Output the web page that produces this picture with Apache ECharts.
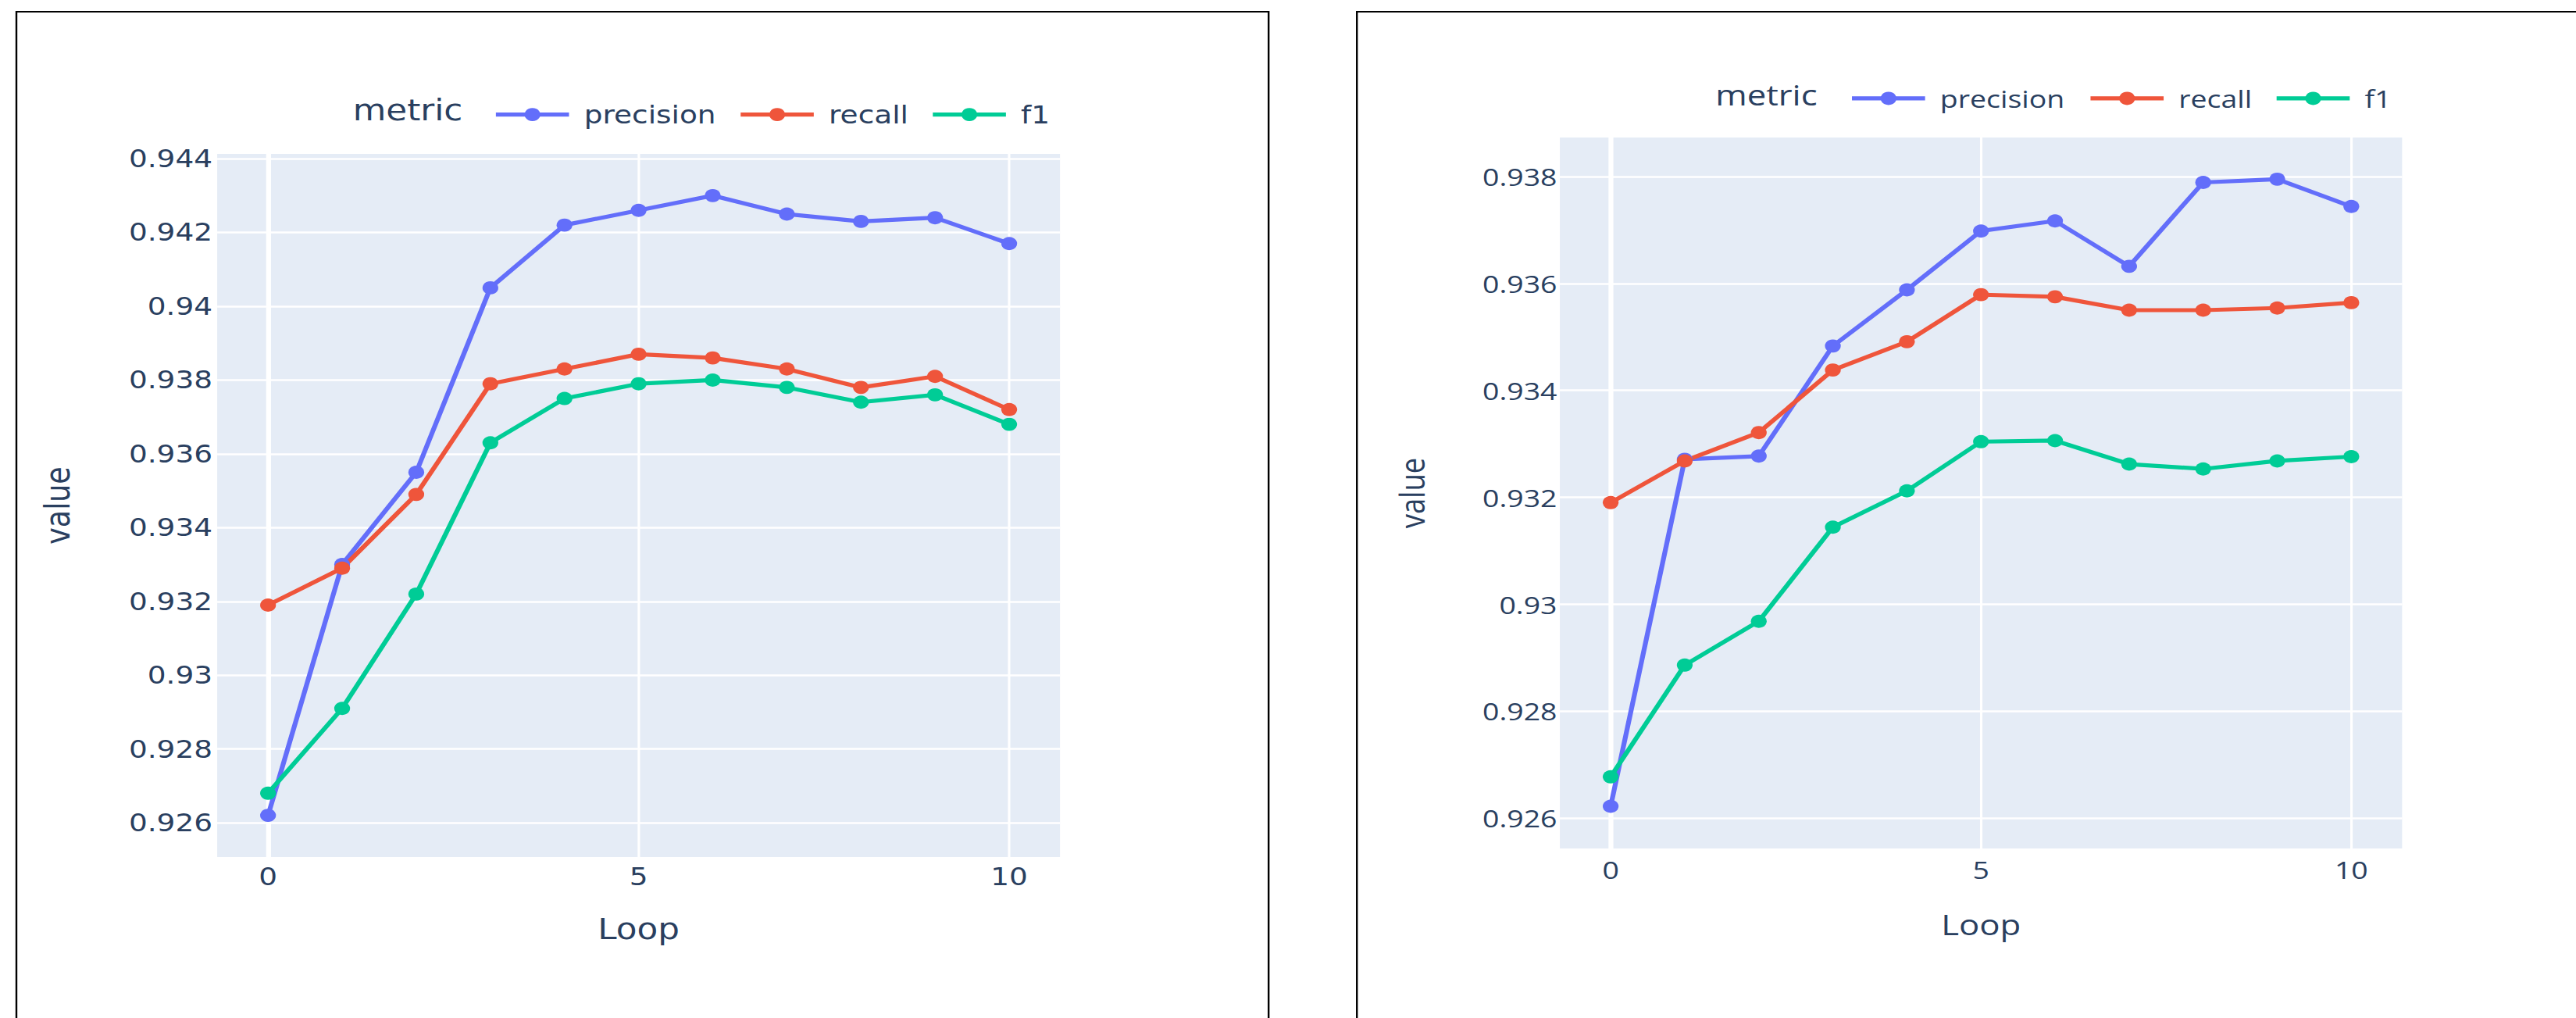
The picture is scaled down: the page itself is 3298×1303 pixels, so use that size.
<!DOCTYPE html>
<html>
<head>
<meta charset="utf-8">
<script src="https://cdn.jsdelivr.net/npm/echarts@6/dist/echarts.min.js"></script>
<style>
  html, body { margin: 0; padding: 0; background: #ffffff; overflow: hidden; }
  /* the figure is laid out on a narrower stage and widened horizontally */
  #stage { position: absolute; left: 0; top: 0; width: 2748px; height: 1303px;
           transform: scaleX(1.20015); transform-origin: 0 0; }
</style>
</head>
<body>
<div id="stage"></div>
<script>
// ---- data -------------------------------------------------------------
const loops = [0, 1, 2, 3, 4, 5, 6, 7, 8, 9, 10];
const metricNames = ['precision', 'recall', 'f1'];

// first run
const precisionA = [0.9262, 0.9330, 0.9355, 0.9405, 0.9422, 0.9426, 0.9430, 0.9425, 0.9423, 0.9424, 0.9417];
const recallA    = [0.9319, 0.9329, 0.9349, 0.9379, 0.9383, 0.9387, 0.9386, 0.9383, 0.9378, 0.9381, 0.9372];
const f1A        = [0.9268, 0.9291, 0.9322, 0.9363, 0.9375, 0.9379, 0.9380, 0.9378, 0.9374, 0.9376, 0.9368];

// second run
const precisionB = [0.92622, 0.93271, 0.93277, 0.93483, 0.93588, 0.93698, 0.93717, 0.93632, 0.93789, 0.93795, 0.93744];
const recallB    = [0.93190, 0.93268, 0.93321, 0.93438, 0.93491, 0.93579, 0.93575, 0.93550, 0.93550, 0.93554, 0.93564];
const f1B        = [0.92677, 0.92886, 0.92968, 0.93144, 0.93212, 0.93304, 0.93306, 0.93262, 0.93253, 0.93268, 0.93276];

// axis ticks and ranges
const xTicks = [0, 5, 10];
const xRange = [-0.686, 10.686];
const yTicksA = [0.926, 0.928, 0.93, 0.932, 0.934, 0.936, 0.938, 0.94, 0.942, 0.944];
const yRangeA = [0.92507, 0.94413];
const yTicksB = [0.926, 0.928, 0.93, 0.932, 0.934, 0.936, 0.938];
const yRangeB = [0.92543, 0.93873];

// ---- styling ----------------------------------------------------------
const colors = { precision: '#636EFA', recall: '#EF553B', f1: '#00CC96' };
const textColor = '#2a3f5f';
const plotBg = '#E5ECF6';
const S = 2.6;                 // figure scale
const tickSize = 12 * S;
const titleSize = 14 * S;
const markerSize = 6.5 * S;

function pairs(vals) { return loops.map((x, i) => [x, vals[i]]); }
function fmt(v) { return parseFloat(v.toFixed(3)).toString(); }

function makeX(gridIndex, font, margin, nameGap) {
  return {
    type: 'value', gridIndex, min: xRange[0], max: xRange[1],
    name: 'Loop', nameLocation: 'middle', nameGap,
    nameTextStyle: { fontFamily: font, fontSize: titleSize, color: textColor },
    axisLine: { show: false },
    axisTick: { show: false, customValues: xTicks },
    axisLabel: { customValues: xTicks, fontFamily: font, fontSize: tickSize, color: textColor, margin },
    splitLine: { show: true, lineStyle: { color: '#ffffff', width: 1 * S } }
  };
}
function makeY(gridIndex, font, ticks, range, margin, nameGap) {
  return {
    type: 'value', gridIndex, min: range[0], max: range[1],
    name: 'value', nameLocation: 'middle', nameRotate: 90, nameGap,
    nameTextStyle: { fontFamily: font, fontSize: titleSize, color: textColor },
    axisLine: { show: false },
    axisTick: { show: false, customValues: ticks },
    axisLabel: { customValues: ticks, formatter: fmt, fontFamily: font, fontSize: tickSize, color: textColor, margin },
    splitLine: { show: true, lineStyle: { color: '#ffffff', width: 1 * S } }
  };
}
function lineSeries(name, vals, idx) {
  return {
    type: 'line', name, data: pairs(vals), xAxisIndex: idx, yAxisIndex: idx, z: 2,
    symbol: 'circle', symbolSize: markerSize, showSymbol: true,
    lineStyle: { color: colors[name], width: 2 * S },
    itemStyle: { color: colors[name] },
    emphasis: { disabled: true }
  };
}
// vertical zero line of each panel, drawn under the data
function zeroLine(idx) {
  return {
    type: 'line', xAxisIndex: idx, yAxisIndex: idx, data: [], z: 1, silent: true,
    markLine: { z: 1, silent: true, symbol: 'none', label: { show: false },
      lineStyle: { color: '#ffffff', width: 2 * S, type: 'solid' },
      data: [{ xAxis: 0 }] }
  };
}
function legendItem(name, left, centerY, font) {
  const h = markerSize / 0.8;
  return {
    data: [name], left, top: centerY - h / 2, padding: 0,
    itemWidth: 30 * S, itemHeight: h, selectedMode: false,
    lineStyle: { width: 2 * S, color: colors[name] },
    itemStyle: { color: colors[name] },
    textStyle: { fontFamily: font, fontSize: tickSize, color: textColor, padding: [0, 0, 0, 11] }
  };
}
function legendTitle(left, centerY, font) {
  return {
    text: 'metric', left, top: centerY - titleSize / 2, padding: 0,
    textStyle: { fontFamily: font, fontSize: titleSize, fontWeight: 'normal', color: textColor, lineHeight: titleSize }
  };
}

const fontA = 'DejaVu Sans';
const fontB = 'Open Sans';

const option = {
  animation: false,
  grid: [
    { left: 231.7, top: 197, width: 899.1, height: 900, show: true, backgroundColor: plotBg, borderWidth: 0 },
    { left: 1664, top: 176, width: 898.5, height: 910, show: true, backgroundColor: plotBg, borderWidth: 0 }
  ],
  xAxis: [ makeX(0, fontA, 10, 74), makeX(1, fontB, 11, 79) ],
  yAxis: [ makeY(0, fontA, yTicksA, yRangeA, 5, 152), makeY(1, fontB, yTicksB, yRangeB, 3, 140) ],
  title: [ legendTitle(376.4, 141.7, fontA), legendTitle(1830, 121, fontB) ],
  legend: [
    legendItem('precision', 526.4, 141.7, fontA),
    legendItem('recall', 787.5, 141.7, fontA),
    legendItem('f1', 992.5, 141.7, fontA),
    legendItem('precision', 1973, 121, fontB),
    legendItem('recall', 2227.5, 121, fontB),
    legendItem('f1', 2426, 121, fontB)
  ],
  graphic: [
    // panel frames
    { type: 'rect', shape: { x: 17.5, y: 15, width: 1335.8, height: 1400 },
      style: { fill: 'none', stroke: '#000000', lineWidth: 2 }, silent: true },
    { type: 'rect', shape: { x: 1447.5, y: 15, width: 1400, height: 1400 },
      style: { fill: 'none', stroke: '#000000', lineWidth: 2 }, silent: true }
  ],
  series: [
    zeroLine(0), zeroLine(1),
    lineSeries('precision', precisionA, 0),
    lineSeries('recall', recallA, 0),
    lineSeries('f1', f1A, 0),
    lineSeries('precision', precisionB, 1),
    lineSeries('recall', recallB, 1),
    lineSeries('f1', f1B, 1)
  ]
};

const chart = echarts.init(document.getElementById('stage'), null, { renderer: 'svg', width: 2748, height: 1303 });
chart.setOption(option);
</script>
</body>
</html>
